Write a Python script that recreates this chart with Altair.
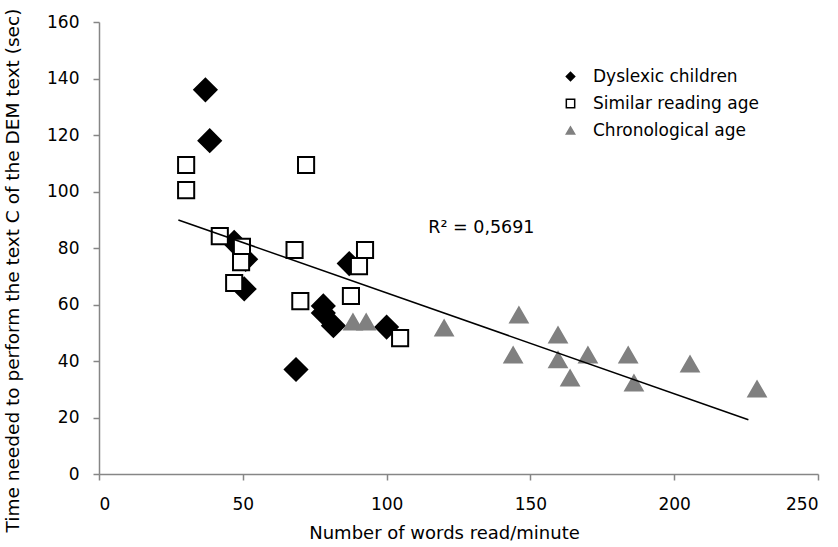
import altair as alt
import pandas as pd

groups = ["Dyslexic children", "Similar reading age", "Chronological age"]

dys_x = [37, 38.5, 47, 51, 50.5, 68.5, 78, 78, 81.5, 87, 100]
dys_y = [136, 118, 82, 76, 65.5, 37, 59.5, 57, 52.5, 74.5, 52]

sim_x = [30.3, 30.3, 42, 49.7, 49.4, 47, 72, 68, 70, 92.5, 90.4, 87.6, 104.7]
sim_y = [109.4, 100.5, 84.2, 80.4, 75, 67.6, 109.4, 79.3, 61.2, 79.3, 73.6, 63, 48.1]

chr_x = [88.3, 92.9, 120, 146, 144, 159.6, 159.6, 163.8, 170, 184, 186, 205.5, 228.8]
chr_y = [53.8, 53.8, 51.7, 56.3, 42.1, 49.2, 40.4, 34, 42.1, 42.1, 32.2, 38.9, 30.1]

trend_extent = [27.6, 225.8]
r2_label = "R² = 0,5691"

rows = []
for g, xs, ys in zip(groups, [dys_x, sim_x, chr_x], [dys_y, sim_y, chr_y]):
    for a, b in zip(xs, ys):
        rows.append({"group": g, "x": a, "y": b})
df = pd.DataFrame(rows)

FONT = "DejaVu Sans"

xscale = alt.Scale(domain=[0, 250], nice=False)
yscale = alt.Scale(domain=[0, 160], nice=False)

xaxis = alt.Axis(title="Number of words read/minute", values=[0, 50, 100, 150, 200, 250],
                 grid=False, labelPadding=16, titlePadding=12, titleX=345)
yaxis = alt.Axis(title="Time needed to perform the text C of the DEM text (sec)",
                 values=list(range(0, 161, 20)), grid=False, labelPadding=14, titlePadding=24,
                 titleY=248, titleFontSize=18.5, titleLimit=600)

legend = alt.Legend(title=None, orient="none", legendX=463, legendY=46,
                    labelFontSize=17, symbolSize=70, rowPadding=9, labelOffset=14, labelLimit=300,
                    symbolStrokeWidth=1.5, labelFont=FONT, labelColor="black")

base = alt.Chart(df).encode(
    x=alt.X("x:Q", scale=xscale, axis=xaxis),
    y=alt.Y("y:Q", scale=yscale, axis=yaxis),
    shape=alt.Shape("group:N", scale=alt.Scale(domain=groups, range=["diamond", "square", "triangle-up"]),
                    legend=legend),
    fill=alt.Fill("group:N", scale=alt.Scale(domain=groups, range=["black", "white", "#808080"]),
                  legend=legend),
    stroke=alt.Stroke("group:N", scale=alt.Scale(domain=groups, range=["black", "black", "#808080"]),
                      legend=legend),
)

sizes = [500, 260, 300]
point_layers = [
    base.transform_filter(alt.datum.group == g).mark_point(filled=True, strokeWidth=2, opacity=1, size=s)
    for g, s in zip(groups, sizes)
]

trend = alt.Chart(df).transform_regression("x", "y", extent=trend_extent).mark_line(
    color="black", strokeWidth=1.5
).encode(
    x=alt.X("x:Q", scale=xscale),
    y=alt.Y("y:Q", scale=yscale),
)

r2 = alt.Chart(pd.DataFrame({"label": [r2_label]})).mark_text(
    align="left", baseline="middle", fontSize=17.5, font=FONT, color="black"
).encode(x=alt.datum(114.5), y=alt.datum(87), text="label:N")

chart = alt.layer(*point_layers, trend, r2).properties(
    width=719, height=452,
    padding={"left": 99, "top": 22, "right": 20, "bottom": 73},
    autosize=alt.AutoSizeParams(type="none"),
).configure_view(stroke=None).configure_axis(
    domainColor="#868686", tickColor="#868686", tickSize=6, domainWidth=1.5, tickWidth=1.5,
    labelFont=FONT, titleFont=FONT, labelFontSize=17, titleFontSize=18,
    labelColor="black", titleColor="black", titleFontWeight="normal",
)

chart.save("out.html", embed_options={"renderer": "svg", "actions": False})
